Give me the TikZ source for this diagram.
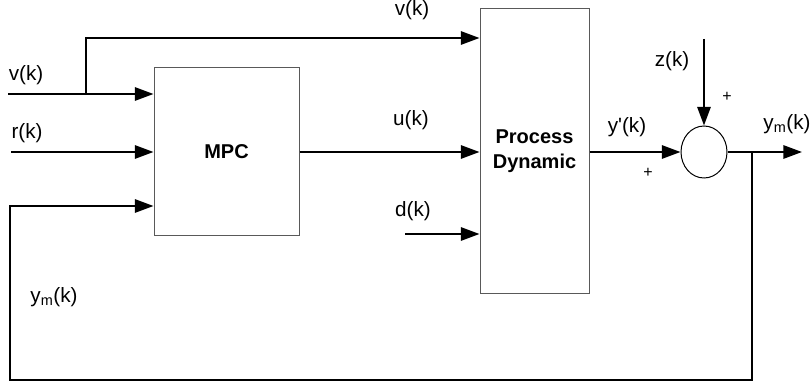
\documentclass[tikz,border=0pt]{standalone}
\usepackage{fontspec}
\setmainfont{Liberation Sans}
\usetikzlibrary{arrows.meta,shapes.geometric}
\begin{document}
\begin{tikzpicture}[x=0.75pt,y=-0.75pt,
  wire/.style={line width=1.5pt},
  arr/.style={wire,-{Triangle[length=14pt,width=10pt]}},
  blockbox/.style={draw=black!65,line width=0.75pt,fill=white,inner sep=0pt,
    font=\fontsize{15}{18.75}\selectfont\bfseries,align=center},
  lab/.style={font=\fontsize{15.5}{17}\selectfont,inner sep=0pt},
  sgn/.style={font=\fontsize{12}{14}\selectfont,inner sep=0pt}
]
\useasboundingbox (0,0) rectangle (810,384);

% blocks
\node[blockbox,minimum width=108.75pt,minimum height=126pt] (mpc) at (226.5,152) {MPC};
\node[blockbox,minimum width=81.75pt,minimum height=213.75pt] (proc) at (534.5,151.5) {Process\\Dynamic};
\node[ellipse,draw=black,line width=0.75pt,minimum width=34.5pt,minimum height=39pt,inner sep=0pt] (sum) at (704,152) {};

% coordinates
\coordinate (vin) at (8,94);
\coordinate (vb) at (86,94);
\coordinate (vtop) at (86,38);
\coordinate (rin) at (11,152);
\coordinate (din) at (405,234);
\coordinate (zin) at (704,39);
\coordinate (yout) at (802,152);
\coordinate (fb) at (752,152);
\coordinate (fbbot) at (752,380);
\coordinate (fbleft) at (10,380);
\coordinate (fbup) at (10,206);

% connectors
\draw[arr] (vin) -- (vin -| mpc.west);
\draw[arr] (vb) -- (vtop) -- (vtop -| proc.west);
\draw[arr] (rin) -- (rin -| mpc.west);
\draw[arr] (mpc.east) -- (mpc.east -| proc.west);
\draw[arr] (din) -- (din -| proc.west);
\draw[arr] (sum.west -| proc.east) -- (sum.west);
\draw[arr] (zin) -- (sum.north);
\draw[arr] (sum.east) -- (yout);
\draw[arr] (fb) -- (fbbot) -- (fbleft) -- (fbup) -- (fbup -| mpc.west);

% labels
\node[lab] (lv) at (26,75) {v(k)};
\node[lab] (lr) at (27,133) {r(k)};
\node[lab] (lym) at (54,297) {y\textsubscript{m}(k)};
\node[lab] (lv2) at (412,10) {v(k)};
\node[lab] (lu) at (411,120) {u(k)};
\node[lab] (ld) at (413,211) {d(k)};
\node[lab] (lyp) at (627,127) {y\textquotesingle(k)};
\node[lab] (lz) at (672,61) {z(k)};
\node[lab] (lym2) at (787,124) {y\textsubscript{m}(k)};
\node[sgn] (p1) at (727,97) {+};
\node[sgn] (p2) at (648,173) {+};
\end{tikzpicture}
\end{document}
